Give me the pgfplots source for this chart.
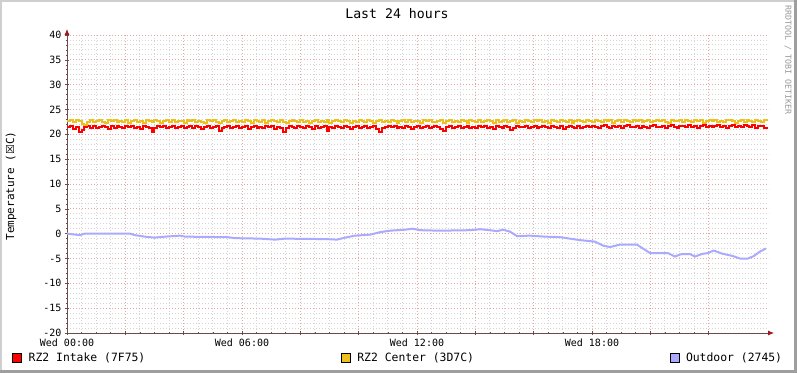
\documentclass[border=0pt]{standalone}
\usepackage{fontspec}
\setmainfont{DejaVu Sans Mono}
\newfontfamily\symfont{DejaVu Sans}
\usepackage{pgfplots}
\pgfplotsset{compat=1.18}
\usepackage{pgfplotstable}
\usetikzlibrary{arrows.meta}

\definecolor{intake}{HTML}{FF0000}
\definecolor{centerc}{HTML}{EBC11F}
\definecolor{outdoor}{HTML}{AAAAFF}
\definecolor{axiscol}{HTML}{6E4B4B}
\definecolor{arrowcol}{HTML}{A01818}
\definecolor{majgrid}{HTML}{E6A3A3}
\definecolor{mingrid}{HTML}{D4D4D4}
\definecolor{shadeA}{HTML}{CFCFCF}
\definecolor{shadeB}{HTML}{9E9E9E}

% RZ2 Intake, one value every 0.1 h
\pgfplotstableread[header=false,row sep=\\]{
21.4\\21.6\\21.1\\21.5\\20.4\\20.8\\21.5\\21.7\\21.3\\21.6\\21.2\\21.5\\21.7\\21.4\\21.1\\21.6\\21.3\\21.7\\21.5\\21.2\\
21.6\\21.4\\21.7\\21.3\\21.5\\21.0\\21.6\\21.4\\21.2\\20.5\\21.3\\21.6\\21.5\\21.7\\21.2\\21.4\\21.6\\21.3\\21.5\\21.7\\
21.2\\21.5\\21.6\\21.3\\21.7\\21.4\\21.1\\21.5\\21.6\\21.2\\21.4\\21.7\\20.6\\21.3\\21.5\\21.6\\21.2\\21.4\\21.7\\21.3\\
21.5\\21.6\\21.0\\21.4\\21.7\\21.3\\21.5\\21.2\\21.6\\21.4\\21.7\\21.1\\21.5\\21.3\\20.4\\21.2\\21.6\\21.5\\21.3\\21.7\\
21.4\\21.2\\21.6\\21.5\\21.1\\21.7\\21.3\\21.5\\21.6\\20.7\\21.4\\21.2\\21.6\\21.5\\21.3\\21.7\\21.4\\21.1\\21.5\\21.6\\
21.3\\21.5\\21.7\\21.2\\21.4\\21.6\\21.0\\20.5\\21.3\\21.5\\21.6\\21.4\\21.7\\21.2\\21.5\\21.3\\21.6\\21.4\\21.1\\21.5\\
21.7\\21.3\\21.5\\21.6\\21.2\\21.4\\21.7\\21.5\\21.1\\20.6\\21.4\\21.6\\21.3\\21.5\\21.7\\21.2\\21.4\\21.6\\21.3\\21.5\\
21.2\\21.6\\21.4\\21.7\\21.3\\21.5\\21.1\\21.6\\21.4\\21.2\\21.7\\21.5\\20.8\\21.3\\21.6\\21.4\\21.5\\21.7\\21.2\\21.4\\
21.6\\21.3\\21.5\\21.7\\21.4\\21.2\\21.6\\21.5\\21.3\\21.7\\21.1\\21.4\\21.6\\21.5\\21.2\\21.7\\21.3\\21.5\\21.6\\21.4\\
21.7\\21.5\\21.3\\21.6\\21.8\\21.4\\21.2\\21.6\\21.5\\21.7\\21.3\\21.6\\21.8\\21.5\\21.4\\21.7\\21.2\\21.6\\21.5\\21.3\\
21.6\\21.8\\21.4\\21.5\\21.7\\21.3\\21.6\\21.8\\21.5\\21.2\\21.7\\21.6\\21.4\\21.8\\21.5\\21.7\\21.3\\21.6\\21.8\\21.5\\
21.7\\21.4\\21.6\\21.9\\21.5\\21.7\\21.3\\21.6\\21.8\\21.5\\21.7\\21.4\\21.9\\21.6\\21.5\\21.8\\21.3\\21.6\\21.7\\21.2\\
21.5\\
}\intaketab

% RZ2 Center, one value every 0.1 h
\pgfplotstableread[header=false,row sep=\\]{
22.7\\22.9\\22.4\\22.8\\22.6\\22.0\\21.9\\22.5\\22.8\\22.4\\22.7\\22.9\\22.5\\22.3\\22.8\\22.6\\22.9\\22.4\\22.7\\22.5\\
22.8\\22.3\\22.6\\22.9\\22.5\\22.7\\22.2\\22.8\\22.6\\22.4\\22.9\\22.7\\22.3\\22.6\\22.8\\22.5\\22.9\\22.4\\22.7\\22.6\\
22.3\\22.8\\22.6\\22.9\\22.4\\22.7\\22.5\\22.2\\22.8\\22.6\\22.9\\22.5\\22.3\\22.7\\22.8\\22.4\\22.6\\22.9\\22.5\\22.7\\
22.4\\22.8\\22.6\\22.3\\22.9\\22.7\\22.5\\22.8\\22.2\\22.6\\22.9\\22.7\\22.4\\22.8\\22.5\\22.2\\22.7\\22.9\\22.6\\22.4\\
22.8\\22.5\\22.7\\22.3\\22.6\\22.9\\22.4\\22.7\\22.5\\22.8\\22.2\\22.6\\22.9\\22.7\\22.4\\22.8\\22.6\\22.3\\22.7\\22.5\\
22.9\\22.6\\22.4\\22.8\\22.7\\22.3\\22.6\\22.9\\22.5\\22.7\\22.4\\22.8\\22.6\\22.2\\22.7\\22.9\\22.5\\22.8\\22.4\\22.6\\
22.7\\22.3\\22.8\\22.6\\22.9\\22.5\\22.4\\22.7\\22.8\\22.2\\22.6\\22.9\\22.5\\22.7\\22.4\\22.8\\22.6\\22.3\\22.9\\22.7\\
22.5\\22.8\\22.4\\22.7\\22.9\\22.6\\22.3\\22.8\\22.5\\22.7\\22.9\\22.4\\22.6\\22.8\\22.2\\22.7\\22.5\\22.9\\22.6\\22.4\\
22.8\\22.6\\22.9\\22.5\\22.7\\22.3\\22.8\\22.6\\22.4\\22.9\\22.7\\22.5\\22.8\\22.3\\22.6\\22.9\\22.7\\22.4\\22.8\\22.6\\
22.5\\22.9\\22.7\\22.4\\22.8\\22.6\\22.9\\22.3\\22.7\\22.8\\22.5\\22.9\\22.6\\22.4\\22.8\\22.7\\22.9\\22.5\\22.6\\22.8\\
22.4\\22.7\\22.9\\22.6\\22.8\\22.5\\22.3\\22.9\\22.7\\22.6\\22.8\\22.4\\22.9\\22.7\\22.5\\22.8\\22.6\\22.9\\22.3\\22.7\\
22.8\\22.6\\22.9\\22.5\\22.7\\22.4\\22.8\\22.9\\22.6\\22.3\\22.7\\22.9\\22.5\\22.8\\22.6\\22.4\\22.9\\22.7\\22.5\\22.8\\
22.6\\
}\centertab

\begin{document}
\begin{tikzpicture}
\useasboundingbox (0bp,0bp) rectangle (797bp,373bp);
\fill[white] (0bp,0bp) rectangle (797bp,373bp);
\fill[shadeA] (0bp,0bp) rectangle (2bp,373bp);
\fill[shadeA] (0bp,371bp) rectangle (797bp,373bp);
\fill[shadeB] (794bp,0bp) rectangle (797bp,373bp);
\fill[shadeB] (0bp,0bp) rectangle (797bp,3bp);

\begin{axis}[
  at={(67bp,40bp)}, anchor=south west,
  width=702bp, height=298bp, scale only axis,
  xmin=0, xmax=24.07, ymin=-20, ymax=40,
  axis x line=bottom, axis y line=left,
  axis line style={draw=axiscol, line width=0.8bp},
  x axis line style={-{Latex[length=6bp,width=5bp,color=arrowcol]}, shorten >=-5bp},
  y axis line style={-{Latex[length=6bp,width=5bp,color=arrowcol]}, shorten >=-6bp},
  xtick={0,2,...,22},
  xticklabels={Wed 00:00,,,Wed 06:00,,,Wed 12:00,,,Wed 18:00,,},
  minor x tick num=3,
  ytick={-20,-15,...,40},
  minor y tick num=4,
  grid=both,
  major grid style={draw=majgrid, line width=0.9bp, dash pattern=on 1bp off 2bp},
  minor grid style={draw=mingrid, line width=0.9bp, dash pattern=on 1bp off 2bp},
  tick align=center,
  major tick length=4bp, minor tick length=2bp,
  tick style={draw=axiscol, line width=0.6bp},
  /pgf/number format/assume math mode=true,
  ticklabel style={font=\fontsize{10bp}{12bp}\selectfont, text=black},
  legend style={at={(0,0)}, anchor=west, xshift=-55bp, yshift=-25bp,
    draw=none, fill=none, inner sep=0pt,
    font=\fontsize{11.4bp}{13bp}\selectfont,
    /tikz/every odd column/.append style={column sep=5bp},
    /tikz/every even column/.append style={column sep=193.5bp}},
  legend columns=3,
  legend cell align=left,
]
\addplot[const plot, draw=intake, line width=2bp,
  legend image code/.code={\draw[draw=black,line width=0.5bp,fill=intake] (0bp,-4.5bp) rectangle (9bp,4.5bp);}]
  table[x expr=\coordindex*0.1, y index=0] {\intaketab};
\addlegendentry{RZ2 Intake (7F75)}
\addplot[const plot, draw=centerc, line width=2bp,
  legend image code/.code={\draw[draw=black,line width=0.5bp,fill=centerc] (0bp,-4.5bp) rectangle (9bp,4.5bp);}]
  table[x expr=\coordindex*0.1, y index=0] {\centertab};
\addlegendentry{RZ2 Center (3D7C)}
\addplot[draw=outdoor, line width=2bp,
  legend image code/.code={\draw[draw=black,line width=0.5bp,fill=outdoor] (0bp,-4.5bp) rectangle (9bp,4.5bp);}]
  coordinates {(0,0.0)(0.45,-0.3)(0.6,0.0)(2.16,0.0)(2.33,-0.3)(2.67,-0.6)(3.0,-0.8)(3.36,-0.6)(3.87,-0.4)(4.05,-0.6)(5.49,-0.7)(5.76,-0.9)(6.62,-1.0)(7.13,-1.2)(7.47,-1.0)(8.91,-1.1)(9.26,-1.2)(9.53,-0.8)(9.87,-0.4)(10.39,-0.2)(10.73,0.3)(11.07,0.6)(11.59,0.8)(11.86,1.0)(12.1,0.7)(12.79,0.6)(13.82,0.7)(14.16,0.9)(14.5,0.7)(14.74,0.5)(14.95,0.8)(15.19,0.4)(15.43,-0.5)(15.87,-0.4)(16.39,-0.6)(16.9,-0.7)(17.24,-1.0)(17.59,-1.3)(18.1,-1.6)(18.38,-2.4)(18.62,-2.7)(18.96,-2.2)(19.54,-2.2)(19.75,-3.0)(19.99,-3.9)(20.6,-3.9)(20.84,-4.6)(21.08,-4.1)(21.36,-4.1)(21.53,-4.6)(21.77,-4.1)(21.97,-3.9)(22.18,-3.4)(22.45,-4.0)(22.83,-4.5)(23.07,-5.0)(23.35,-5.0)(23.55,-4.5)(23.76,-3.6)(23.96,-3.0)};
\addlegendentry{Outdoor (2745)}
\end{axis}

\node[font=\fontsize{13.2bp}{15bp}\selectfont] at (397bp,359bp) {Last 24 hours};
\node[rotate=90, font=\fontsize{11bp}{12bp}\selectfont] at (11bp,187bp) {Temperature ({\symfont ☒}C)};
\node[rotate=-90, font=\fontsize{8.3bp}{10bp}\selectfont, text=black!40] at (788bp,313bp) {RRDTOOL / TOBI OETIKER};
\end{tikzpicture}
\end{document}
